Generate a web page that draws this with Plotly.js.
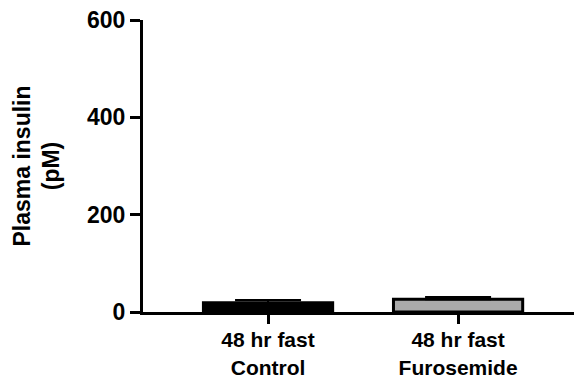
<!DOCTYPE html>
<html>
<head>
<meta charset="utf-8">
<script src="https://cdn.plot.ly/plotly-3.0.1.min.js"></script>
<style>html,body{margin:0;padding:0;background:#fff;}#chart{width:574px;height:379px;}</style>
</head>
<body>
<div id="chart"></div>
<script>
const categories = ["48 hr fast<br>Control", "48 hr fast<br>Furosemide"];
const insulinValues = [19, 26];
const insulinErrors = [5.5, 5];
const barColors = ["#000000", "#aaaaaa"];
const yTickValues = [0, 200, 400, 600];

const fontFamily = "Arial, 'Liberation Sans', Helvetica, sans-serif";
const catIndex = categories.map((_, i) => i);

const barTrace = {
  type: "bar",
  x: catIndex,
  y: insulinValues,
  width: 0.68,
  marker: { color: barColors, line: { color: "#000", width: 3 } },
  error_y: { type: "data", array: insulinErrors, symmetric: false, arrayminus: [0, 0], color: "#000", thickness: 2, width: 33 },
  hoverinfo: "skip"
};

const layout = {
  width: 574, height: 379,
  margin: { l: 143, r: 0, t: 20, b: 67 },
  paper_bgcolor: "#fff", plot_bgcolor: "#fff",
  showlegend: false,
  font: { family: fontFamily, color: "#000", weight: "bold" },
  xaxis: {
    range: [-0.658, 1.61],
    tickvals: catIndex,
    ticktext: categories,
    showline: true, linewidth: 3, linecolor: "#000",
    ticks: "outside", ticklen: 9, tickwidth: 3, tickcolor: "#000",
    ticklabelstandoff: -2,
    showgrid: false, zeroline: false,
    tickfont: { size: 21, family: fontFamily, weight: "bold" }
  },
  yaxis: {
    range: [0, 600],
    tickvals: yTickValues,
    showline: true, linewidth: 3, linecolor: "#000",
    ticks: "outside", ticklen: 10, tickwidth: 3, tickcolor: "#000",
    showgrid: false, zeroline: false,
    tickfont: { size: 23, family: fontFamily, weight: "bold" },
    title: { text: "Plasma insulin<br>(pM)", font: { size: 23, family: fontFamily, weight: "bold" }, standoff: 21 }
  }
};

Plotly.newPlot("chart", [barTrace], layout, { staticPlot: true, displayModeBar: false });
</script>
</body>
</html>
